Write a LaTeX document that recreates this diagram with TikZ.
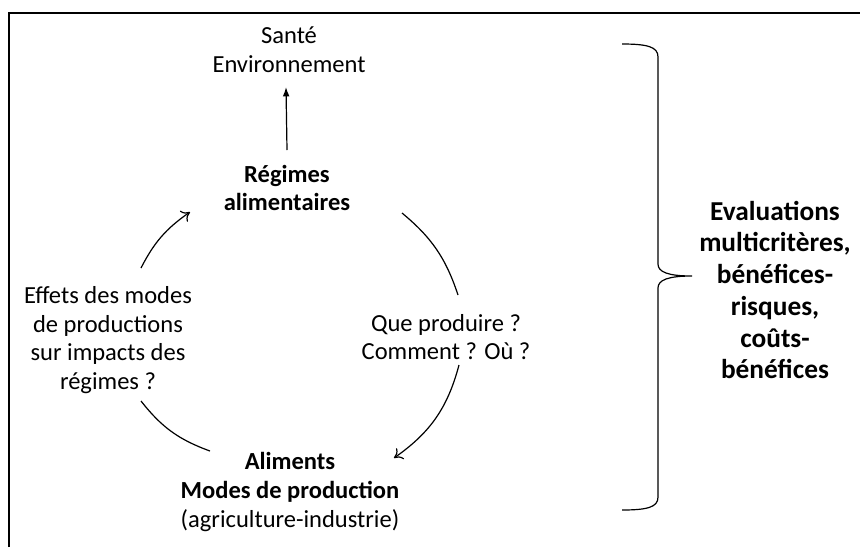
\documentclass[tikz,border=0pt]{standalone}
\usepackage{fontspec}
\setmainfont{Carlito}
\usetikzlibrary{arrows.meta}
\tikzset{
  txt/.style={align=center, inner sep=1pt, font=\fontsize{18.4}{21.5}\selectfont},
  bigtxt/.style={align=center, inner sep=1pt, font=\fontsize{20.5}{23.8}\selectfont\bfseries},
  cycle/.style={line width=0.9pt},
}

\begin{document}
\begin{tikzpicture}[x=0.75pt,y=-0.75pt]
      \useasboundingbox (0,0) rectangle (860,547);
      % frame
      \draw[line width=0.9pt] (9,547) -- (9,13) -- (860,13);
      % texts
      \node[txt] (env) at (289,50) {Santé\\Environnement};
      \node[txt] (regimes) at (287,188) {\textbf{Régimes}\\\textbf{alimentaires}};
      \node[txt] (effets) at (108,340) {Effets des modes\\de productions\\sur impacts des\\régimes ?};
      \node[txt] (quoi) at (446,337) {Que produire ?\\Comment ? Où ?};
      \node[txt] (aliments) at (290,492) {\textbf{Aliments}\\\textbf{Modes de production}\\(agriculture-industrie)};
      \node[bigtxt] (eval) at (775,290) {Evaluations\\multicritères,\\bénéfices-\\risques,\\coûts-\\bénéfices};
      % arc ends
      \coordinate (a1) at (141,268); \coordinate (a2) at (190,212);
      \coordinate (b1) at (402,213); \coordinate (b2) at (458,295);
      \coordinate (c1) at (459,365); \coordinate (c2) at (394,458);
      \coordinate (d1) at (210,451); \coordinate (d2) at (141,401);
      \coordinate (up1) at (287,150); \coordinate (up2) at (286,87);
      % routine for the cycle
      \draw[cycle,-{Latex[length=7pt,width=5pt]}] (up1) -- (up2);
      \draw[cycle,-{To[length=6pt,width=10pt]}] (a1) to[bend left=14] (a2);
      \draw[cycle] (b1) to[bend left=16] (b2);
      \draw[cycle,-{To[length=6pt,width=10pt]}] (c1) to[bend left=20] (c2);
      \draw[cycle] (d1) to[bend left=16] (d2);
      % brace
      \draw[line width=0.9pt] (622,44) .. controls (648,44) and (658,47) .. (658,57) -- (658,264)
        .. controls (658,272) and (668,276) .. (692,276)
        .. controls (668,276) and (658,280) .. (658,288) -- (658,497)
        .. controls (658,507) and (648,510) .. (622,510);
    \end{tikzpicture}
\end{document}
